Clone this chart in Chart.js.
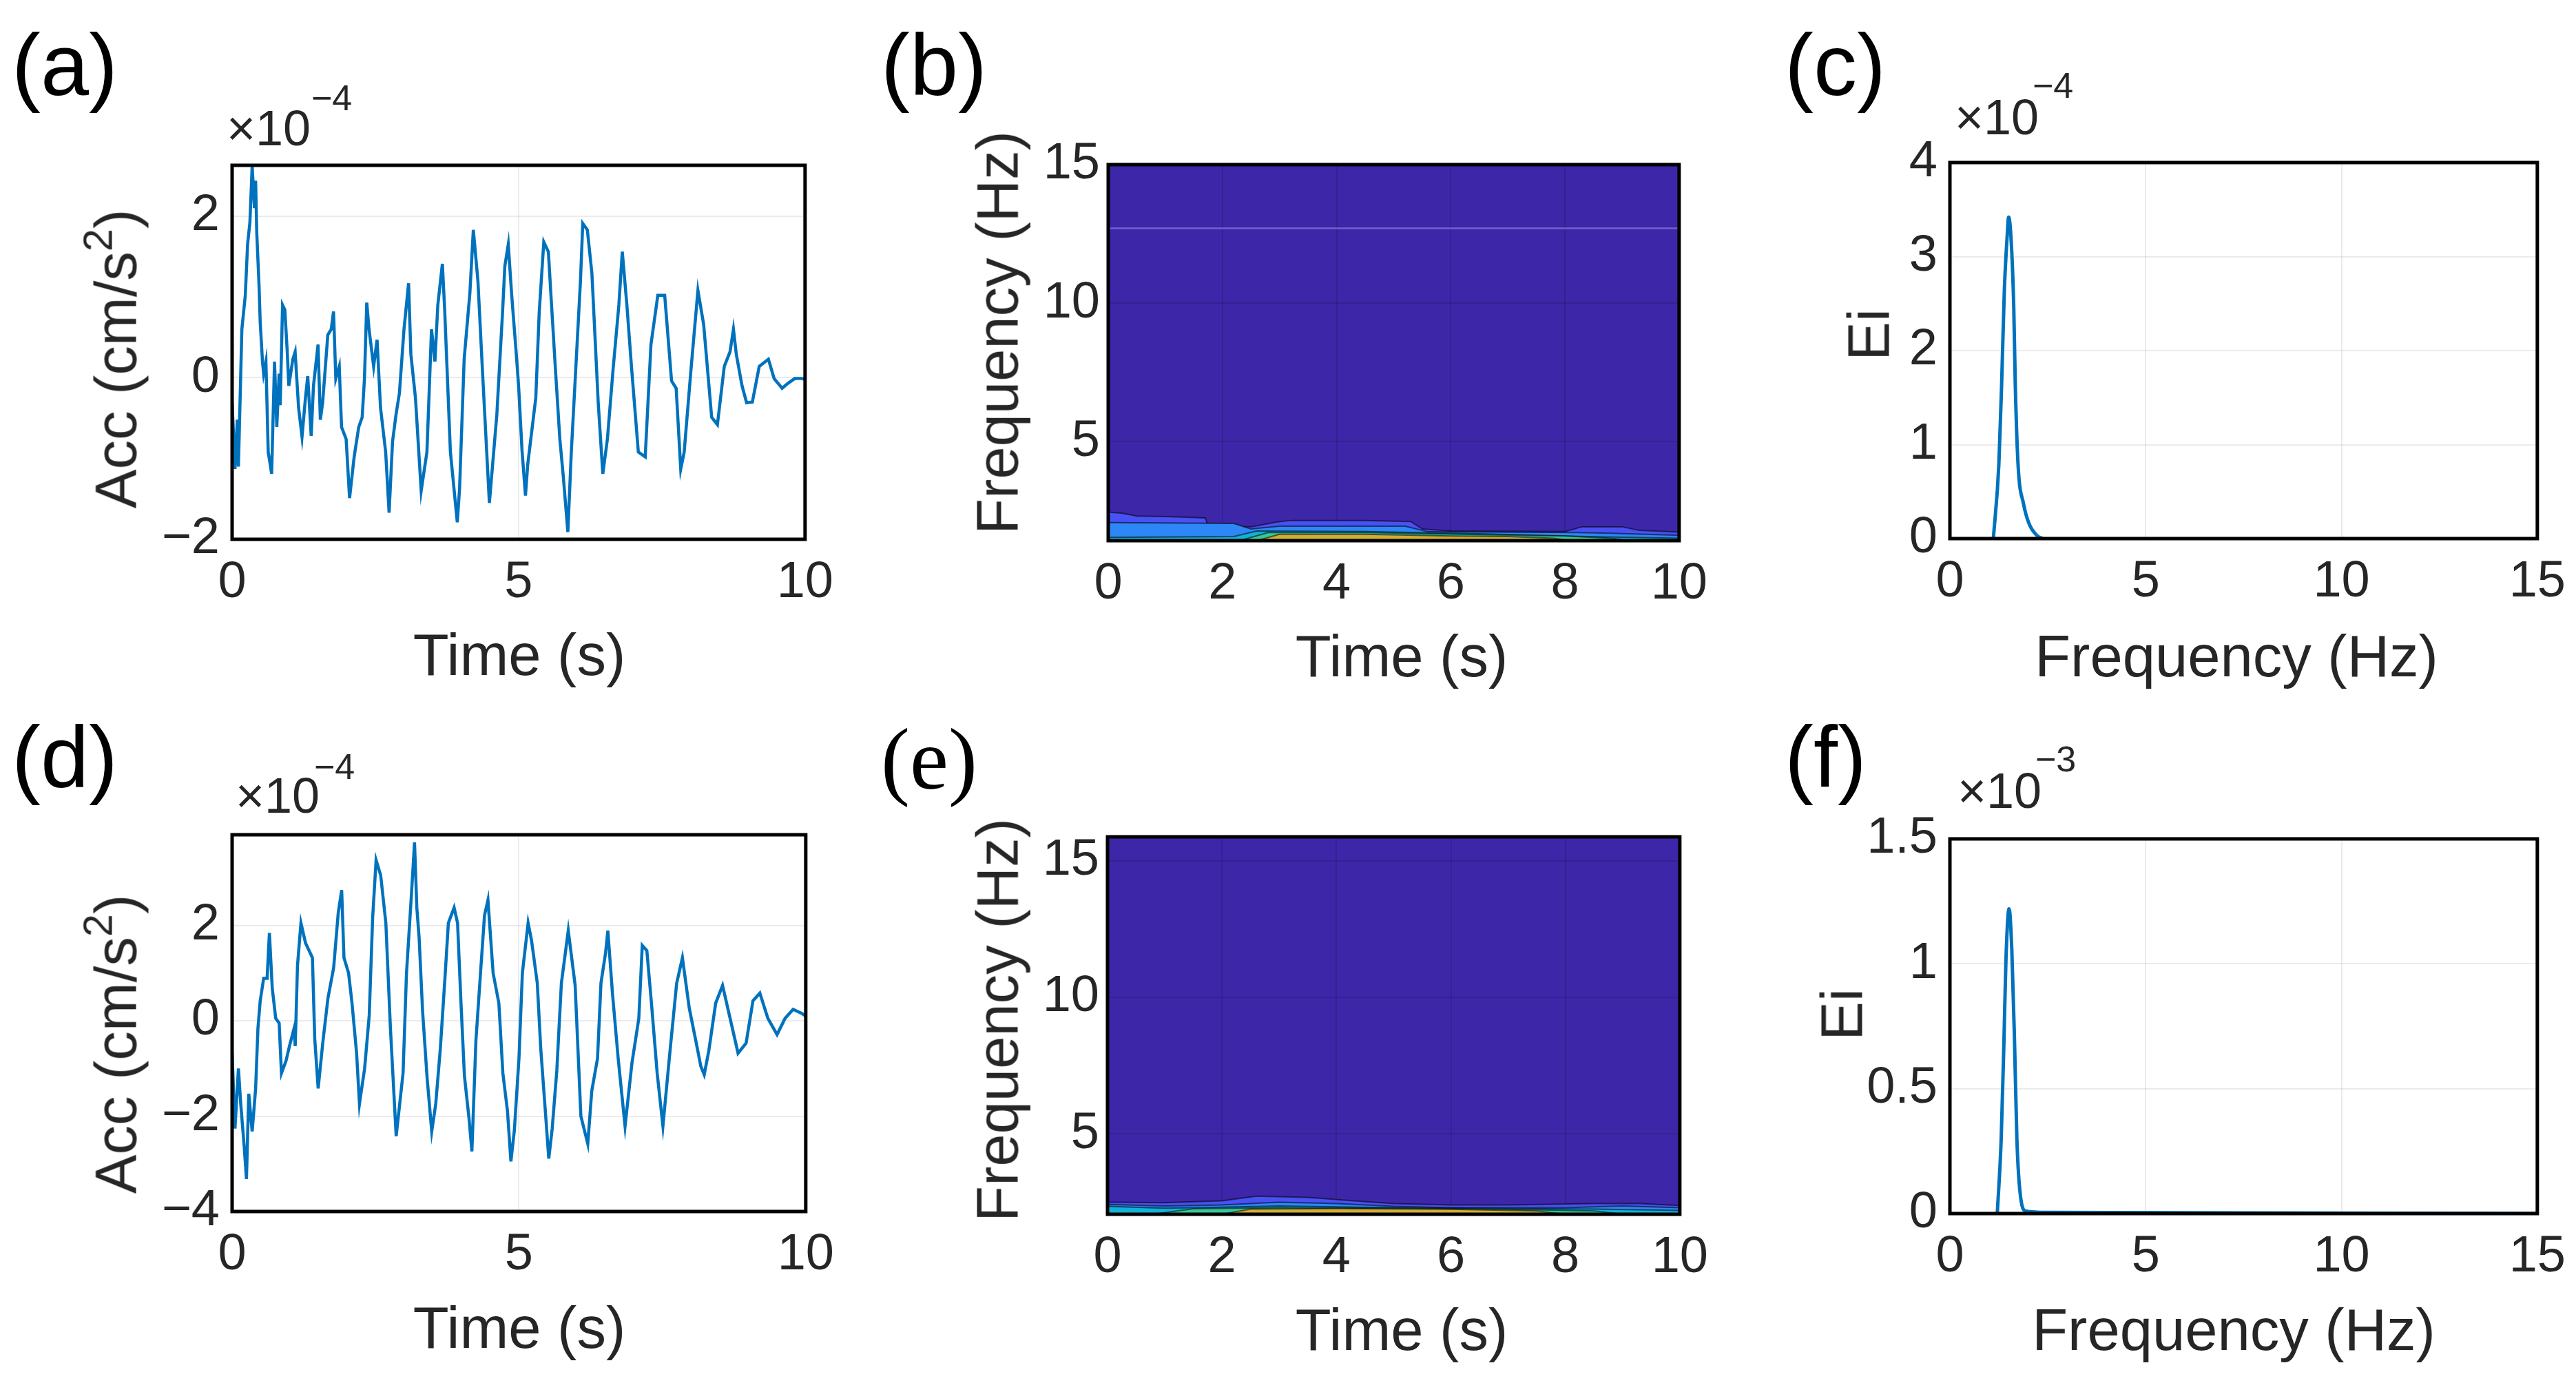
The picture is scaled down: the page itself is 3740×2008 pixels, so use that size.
<!DOCTYPE html>
<html>
<head>
<meta charset="utf-8">
<script src="https://cdn.jsdelivr.net/npm/chart.js@4.4.1/dist/chart.umd.min.js"></script>
<style>
  html, body { margin: 0; padding: 0; background: #fff; }
  #figure { position: relative; width: 3740px; height: 2008px; overflow: hidden;
            font-family: "Liberation Sans", Arial, sans-serif; color: #262626; }
  #figure canvas { position: absolute; }
  .t { position: absolute; white-space: nowrap; line-height: 1; }
  .c { transform: translate(-50%, -50%); }
  .r { transform: translate(-50%, -50%) rotate(-90deg); }
  .l { transform: translateY(-50%); }
  sup { font-size: 0.7em; line-height: 0; position: relative; top: -0.1em; }
</style>
</head>
<body>
<div id="figure"></div>
<script>
/* (a) acceleration record, units of 1e-4 cm/s^2 */
const timeA = [0,0.05,0.09,0.11,0.17,0.23,0.27,0.31,0.35,0.39,
  0.41,0.43,0.47,0.49,0.53,0.55,0.59,0.63,0.69,0.74,
  0.78,0.82,0.84,0.88,0.92,0.96,0.99,1.06,1.1,1.16,
  1.22,1.28,1.32,1.38,1.42,1.5,1.54,1.58,1.67,1.73,
  1.77,1.81,1.87,1.91,1.99,2.05,2.13,2.21,2.27,2.31,
  2.35,2.39,2.47,2.53,2.59,2.68,2.74,2.8,2.86,2.92,
  3.0,3.08,3.12,3.2,3.3,3.4,3.48,3.54,3.59,3.67,
  3.71,3.81,3.93,3.97,4.05,4.15,4.21,4.29,4.37,4.49,
  4.62,4.72,4.76,4.82,4.88,4.96,5.0,5.06,5.12,5.16,
  5.3,5.36,5.44,5.52,5.56,5.64,5.72,5.78,5.86,5.92,
  6.0,6.08,6.12,6.2,6.28,6.39,6.47,6.55,6.65,6.75,
  6.81,6.89,6.97,7.09,7.21,7.31,7.43,7.55,7.67,7.75,
  7.83,7.89,8.01,8.13,8.23,8.37,8.47,8.59,8.69,8.75,
  8.8,8.9,8.98,9.08,9.2,9.36,9.46,9.6,9.7,9.82,
  9.94,10.0];
const accA = [-0.3,-1.13,-0.52,-1.1,0.6,1.02,1.65,1.92,2.62,2.1,
  2.44,1.8,1.14,0.69,0.2,0.05,0.2,-0.92,-1.19,0.2,
  -0.61,0.05,-0.34,0.9,0.84,0.35,-0.1,0.23,0.32,-0.37,
  -0.73,-0.25,0.02,-0.72,-0.1,0.41,-0.52,-0.31,0.53,0.6,
  0.82,-0.01,0.14,-0.61,-0.76,-1.49,-0.98,-0.61,-0.49,-0.01,
  0.93,0.6,0.14,0.47,-0.37,-0.92,-1.67,-0.79,-0.46,-0.19,
  0.6,1.17,0.29,-0.25,-1.4,-0.92,0.6,0.2,0.9,1.41,
  0.84,-0.92,-1.79,-1.37,0.23,1.05,1.83,1.2,0.08,-1.55,
  -0.46,0.81,1.38,1.65,1.02,0.29,-0.1,-0.9,-1.46,-1.07,
  -0.25,0.81,1.68,1.56,1.08,0.14,-0.76,-1.22,-1.91,-0.92,
  0.14,1.2,1.91,1.83,1.29,-0.31,-1.19,-0.76,0.11,0.9,
  1.56,0.9,0.14,-0.92,-0.98,0.41,1.02,1.02,-0.04,-0.13,
  -1.13,-0.92,0.11,1.08,0.66,-0.49,-0.58,0.14,0.32,0.6,
  0.29,-0.1,-0.31,-0.3,0.14,0.23,-0.01,-0.13,-0.07,-0.01,
  -0.01,-0.02];

/* (d) acceleration record, units of 1e-4 cm/s^2 */
const timeD = [0,0.05,0.11,0.15,0.21,0.25,0.29,0.35,0.41,0.45,
  0.49,0.55,0.61,0.65,0.7,0.76,0.82,0.86,0.94,1.0,
  1.08,1.1,1.14,1.2,1.28,1.4,1.44,1.5,1.58,1.67,
  1.77,1.85,1.91,1.95,2.03,2.09,2.17,2.22,2.31,2.39,
  2.45,2.51,2.59,2.68,2.76,2.86,2.98,3.04,3.12,3.18,
  3.22,3.26,3.32,3.4,3.48,3.55,3.63,3.71,3.77,3.87,
  3.93,3.99,4.05,4.13,4.18,4.25,4.33,4.4,4.46,4.55,
  4.65,4.72,4.8,4.86,4.92,5.0,5.06,5.16,5.22,5.32,
  5.38,5.46,5.52,5.58,5.66,5.74,5.86,5.98,6.08,6.2,
  6.27,6.37,6.43,6.51,6.55,6.63,6.73,6.85,6.97,7.09,
  7.15,7.23,7.31,7.41,7.51,7.63,7.75,7.85,7.97,8.11,
  8.17,8.23,8.31,8.43,8.55,8.67,8.82,8.96,9.08,9.2,
  9.34,9.5,9.64,9.78,9.92,10.0];
const accD = [-0.68,-2.26,-1.0,-1.74,-2.63,-3.32,-1.53,-2.32,-1.42,-0.16,
  0.42,0.89,0.89,1.84,0.68,0.05,-0.05,-1.1,-0.84,-0.53,
  -0.16,-0.53,1.16,2.05,1.63,1.32,-0.37,-1.42,-0.47,0.47,
  1.11,2.26,2.74,1.32,1.0,0.37,-0.68,-1.74,-1.0,0.11,
  2.16,3.37,3.05,2.05,-0.16,-2.42,-1.1,1.0,2.53,3.74,
  2.37,1.74,0.21,-1.21,-2.32,-1.74,-0.58,0.89,2.05,2.37,
  2.05,0.37,-1.16,-2.05,-2.74,-0.42,1.0,2.21,2.53,1.0,
  0.37,-1.1,-1.89,-2.95,-2.3,-0.8,1.0,2.05,1.68,0.79,
  -0.58,-1.89,-2.89,-2.26,-1.05,0.79,1.89,0.74,-2.0,-2.58,
  -1.47,-0.79,0.79,1.42,1.89,0.58,-0.79,-2.21,-0.89,0.05,
  1.58,1.47,0.37,-1.1,-2.21,-0.68,0.79,1.32,0.26,-0.58,
  -0.95,-1.13,-0.63,0.37,0.74,0.11,-0.68,-0.47,0.42,0.58,
  0.05,-0.29,0.05,0.24,0.16,0.1];

/* (c) and (f) energy spectra, Ei in units of 1e-4 and 1e-3 */
const freqC = [1.11,1.25,1.32,1.39,1.46,1.5,1.56,1.63,1.67,1.74,1.88,2.02,2.23,2.37];
const eiC   = [0,0.79,1.63,2.64,3.2,3.42,3.2,2.47,1.63,0.79,0.37,0.16,0.03,0];
const freqF = [1.21,1.31,1.38,1.43,1.51,1.58,1.65,1.71,1.81,1.94,2.5,15];
const eiF   = [0,0.3,0.69,1.01,1.22,1.06,0.69,0.3,0.06,0.01,0.005,0];

/* (b) time-frequency contour levels, outer to inner: time (s) and upper edge (Hz) */
const bLev1T  = [0,0.25,0.5,1.0,1.7,1.75,2.5,2.95,3.2,4.5,5.3,5.5,6,8,8.3,9,9.3,10];
const bLev1Hz = [2.46,2.42,2.32,2.3,2.25,1.95,1.93,2.1,2.16,2.16,2.12,1.85,1.78,1.76,1.93,1.93,1.8,1.74];
const bLev2T  = [0,2.2,2.5,3.0,5.2,5.6,8.2,8.8,10];
const bLev2Hz = [2.08,2.05,1.85,1.95,1.95,1.75,1.72,1.7,1.62];
const bLev3T  = [0,2.2,2.6,4.5,6.5,7.5,8.5,10];
const bLev3Hz = [1.55,1.58,1.78,1.76,1.68,1.62,1.57,1.52];
const bLev4T  = [2.3,2.8,4.5,6.5,8.0,8.8,9.2];
const bLev4Hz = [1.43,1.72,1.72,1.65,1.6,1.52,1.43];
const bLev5T  = [2.6,3.0,4.5,6.0,7.0,7.8,8.1];
const bLev5Hz = [1.43,1.66,1.66,1.6,1.58,1.52,1.43];
const bLineT  = [0,10];
const bLineHz = [12.7,12.7];

/* (e) time-frequency contour levels */
const eLev1T  = [0,1,2,2.6,3.5,4.3,5,6,7,8.5,9.3,10];
const eLev1Hz = [2.5,2.48,2.55,2.72,2.68,2.55,2.45,2.4,2.4,2.45,2.45,2.38];
const eLev2T  = [0,1,2,3,4,5,6,8,9,10];
const eLev2Hz = [2.42,2.36,2.4,2.5,2.45,2.35,2.3,2.3,2.36,2.3];
const eLev3T  = [0,1,2,3,5,7,8.5,10];
const eLev3Hz = [2.35,2.28,2.32,2.36,2.3,2.27,2.25,2.2];
const eLev4T  = [0.8,1.5,3,5,7,8.5,9];
const eLev4Hz = [2.06,2.26,2.3,2.28,2.24,2.18,2.06];
const eLev5T  = [2,2.5,4,6,7.5,8];
const eLev5Hz = [2.06,2.25,2.27,2.24,2.18,2.06];

/* tick values */
const ticksTime10 = [0,5,10];
const ticksTime2  = [0,2,4,6,8,10];
const ticksFreq   = [0,5,10,15];
const ticksHz     = [5,10,15];
const ticksAccA   = [-2,0,2];
const ticksAccD   = [-4,-2,0,2];
const ticksEiC    = [0,1,2,3,4];
const ticksEiF    = [0,0.5,1,1.5];

/* parula colours used for the contour levels */
const parulaLevels = ['#4852f4','#2d87f7','#12b1d6','#37c897','#d2ac34'];

const LINE_BLUE = '#0072bd';
const YW = 220, PT = 80, PR = 60, XH = 120;

Chart.defaults.font.family = '"Liberation Sans", Arial, sans-serif';
Chart.defaults.font.size = 74;
Chart.defaults.color = '#262626';

const fig = document.getElementById('figure');

const boxPlugin = {
  id: 'box',
  beforeDraw(chart, args, opts) {
    if (opts && opts.fill) {
      const a = chart.chartArea, ctx = chart.ctx;
      ctx.save();
      ctx.fillStyle = opts.fill;
      ctx.fillRect(a.left, a.top, a.right - a.left, a.bottom - a.top);
      ctx.restore();
    }
  },
  afterDraw(chart) {
    const a = chart.chartArea, ctx = chart.ctx;
    ctx.save();
    ctx.lineWidth = 5;
    ctx.strokeStyle = '#000';
    ctx.strokeRect(a.left, a.top, a.right - a.left, a.bottom - a.top);
    ctx.restore();
  }
};

function pts(xs, ys) {
  return xs.map((x, i) => ({x: x, y: ys[i]}));
}

function fmtTick(v) {
  return String(v).replace('-', '\u2212');
}

function lineSet(xs, ys, width) {
  return { data: pts(xs, ys), borderColor: LINE_BLUE, borderWidth: width, fill: false };
}

function levelSet(xs, ys, i) {
  return { data: pts(xs, ys), borderColor: 'rgba(0,0,0,0.55)', borderWidth: 2,
           backgroundColor: parulaLevels[i], fill: 'start', order: 10 - i };
}

function panel(box, cfg) {
  var canvas = document.createElement('canvas');
  var w = YW + (box.r - box.l) + PR;
  var h = PT + (box.b - box.t) + XH;
  canvas.width = w;
  canvas.height = h;
  canvas.style.left = (box.l - YW) + 'px';
  canvas.style.top = (box.t - PT) + 'px';
  canvas.style.width = w + 'px';
  canvas.style.height = h + 'px';
  fig.appendChild(canvas);

  var gridColor = cfg.fill ? 'rgba(0,0,0,0.12)' : 'rgba(0,0,0,0.08)';
  return new Chart(canvas, {
    type: 'line',
    data: { datasets: cfg.datasets },
    options: {
      responsive: false,
      animation: false,
      devicePixelRatio: 1,
      events: [],
      elements: { point: { radius: 0 }, line: { tension: 0 } },
      layout: { padding: { top: PT, right: PR, left: 0, bottom: 0 } },
      plugins: { legend: { display: false }, tooltip: { enabled: false },
                 box: { fill: cfg.fill || null } },
      scales: {
        x: {
          type: 'linear', min: cfg.xMin, max: cfg.xMax,
          afterFit: s => { s.height = XH; },
          afterBuildTicks: s => { s.ticks = cfg.xTicks.map(v => ({value: v})); },
          grid: { color: gridColor, lineWidth: 2, drawTicks: false },
          border: { display: false },
          ticks: { padding: 19, maxRotation: 0, autoSkip: false, callback: fmtTick }
        },
        y: {
          type: 'linear', min: cfg.yMin, max: cfg.yMax,
          afterFit: s => { s.width = YW; },
          afterBuildTicks: s => { s.ticks = cfg.yTicks.map(v => ({value: v})); },
          grid: { color: gridColor, lineWidth: 2, drawTicks: false },
          border: { display: false },
          ticks: { padding: cfg.yPad, autoSkip: false, callback: fmtTick }
        }
      }
    },
    plugins: [boxPlugin]
  });
}

function text(html, x, y, cls, size, extra) {
  var d = document.createElement('div');
  d.className = 't ' + cls;
  d.innerHTML = html;
  d.style.left = x + 'px';
  d.style.top = y + 'px';
  d.style.fontSize = size + 'px';
  if (extra) Object.assign(d.style, extra);
  fig.appendChild(d);
}

/* --- panels --- */
panel({l: 337, t: 240, r: 1169, b: 783}, {
  datasets: [lineSet(timeA, accA, 4.5)],
  xMin: 0, xMax: 10, xTicks: ticksTime10,
  yMin: -2, yMax: 2.63, yTicks: ticksAccA, yPad: 18
});

panel({l: 1609, t: 239, r: 2438, b: 785}, {
  fill: '#3e26a8',
  datasets: [
    levelSet(bLev1T, bLev1Hz, 0), levelSet(bLev2T, bLev2Hz, 1), levelSet(bLev3T, bLev3Hz, 2),
    levelSet(bLev4T, bLev4Hz, 3), levelSet(bLev5T, bLev5Hz, 4),
    { data: pts(bLineT, bLineHz), borderColor: '#6c62d0', borderWidth: 2.5, fill: false }
  ],
  xMin: 0, xMax: 10, xTicks: ticksTime2,
  yMin: 1.43, yMax: 15, yTicks: ticksHz, yPad: 12
});

panel({l: 2831, t: 236, r: 3684, b: 782}, {
  datasets: [Object.assign(lineSet(freqC, eiC, 5), { cubicInterpolationMode: 'monotone' })],
  xMin: 0, xMax: 15, xTicks: ticksFreq,
  yMin: 0, yMax: 4, yTicks: ticksEiC, yPad: 18
});

panel({l: 337, t: 1212, r: 1170, b: 1759}, {
  datasets: [lineSet(timeD, accD, 4.5)],
  xMin: 0, xMax: 10, xTicks: ticksTime10,
  yMin: -4, yMax: 3.9, yTicks: ticksAccD, yPad: 18
});

panel({l: 1608, t: 1215, r: 2439, b: 1763}, {
  fill: '#3e26a8',
  datasets: [
    levelSet(eLev1T, eLev1Hz, 0), levelSet(eLev2T, eLev2Hz, 1), levelSet(eLev3T, eLev3Hz, 2),
    levelSet(eLev4T, eLev4Hz, 3), levelSet(eLev5T, eLev5Hz, 4)
  ],
  xMin: 0, xMax: 10, xTicks: ticksTime2,
  yMin: 2.06, yMax: 15.87, yTicks: ticksHz, yPad: 12
});

panel({l: 2831, t: 1218, r: 3684, b: 1762}, {
  datasets: [Object.assign(lineSet(freqF, eiF, 5), { cubicInterpolationMode: 'monotone' })],
  xMin: 0, xMax: 15, xTicks: ticksFreq,
  yMin: 0, yMax: 1.5, yTicks: ticksEiF, yPad: 18
});

/* --- panel letters --- */
var letterStyle = { color: '#000' };
text('(a)', 17, 95, 'l', 126, letterStyle);
text('(b)', 1279, 95, 'l', 126, letterStyle);
text('(c)', 2591, 95, 'l', 126, letterStyle);
text('(d)', 17, 1100, 'l', 126, letterStyle);
text('(e)', 1279, 1103, 'l', 126, { color: '#000', fontFamily: '"Liberation Serif", serif' });
text('(f)', 2591, 1100, 'l', 126, letterStyle);

/* --- axis titles --- */
text('Time (s)', 754, 950, 'c', 85);
text('Time (s)', 2035, 952, 'c', 85);
text('Frequency (Hz)', 3247, 952, 'c', 85);
text('Time (s)', 754, 1927, 'c', 85);
text('Time (s)', 2035, 1930, 'c', 85);
text('Frequency (Hz)', 3243, 1930, 'c', 85);

text('Acc (cm/s<sup>2</sup>)', 168, 521, 'r', 85);
text('Frequency (Hz)', 1448, 483, 'r', 85);
text('Ei', 2713, 486, 'r', 85);
text('Acc (cm/s<sup>2</sup>)', 168, 1516, 'r', 85);
text('Frequency (Hz)', 1448, 1481, 'r', 85);
text('Ei', 2674, 1473, 'r', 85);

/* --- scale factors --- */
text('\u00d710', 329, 186, 'l', 72);
text('\u22124', 452, 142, 'l', 52);
text('\u00d710', 2838, 170, 'l', 72);
text('\u22124', 2951, 124, 'l', 52);
text('\u00d710', 342, 1155, 'l', 72);
text('\u22124', 456, 1113, 'l', 52);
text('\u00d710', 2842, 1148, 'l', 72);
text('\u22123', 2955, 1102, 'l', 52);
</script>
</body>
</html>
